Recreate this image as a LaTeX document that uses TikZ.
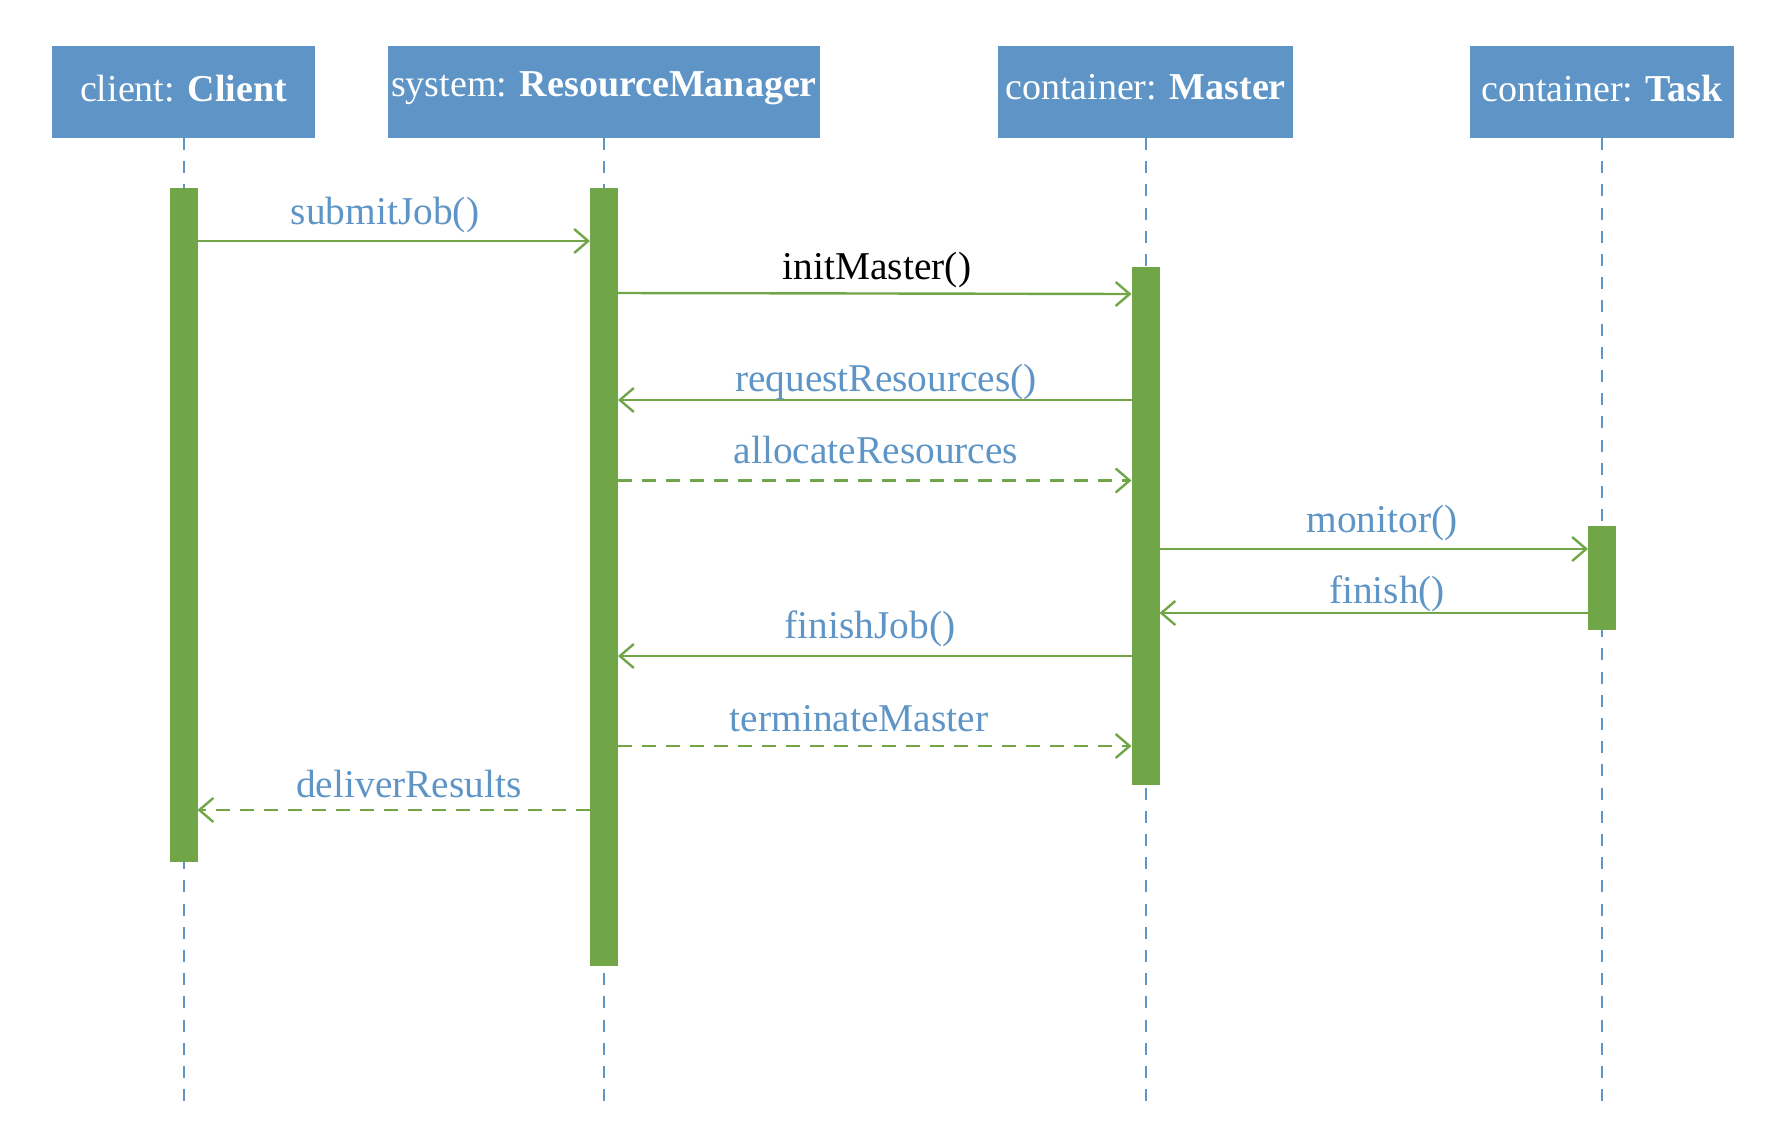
\documentclass[tikz,border=0pt]{standalone}
\usepackage{fontspec}
\setmainfont{Liberation Serif}
\usetikzlibrary{arrows.meta}
\definecolor{boxblue}{RGB}{94,149,198}
\definecolor{bargreen}{RGB}{112,166,72}
\begin{document}
\begin{tikzpicture}[x=0.5pt,y=-0.5pt,
  objbox/.style={fill=boxblue,draw=none,inner sep=0pt,outer sep=0pt,minimum height=46pt,text=white,font=\fontsize{19}{22}\selectfont},
  boxtext/.style={text=white,font=\fontsize{19}{22}\selectfont,inner sep=0pt},
  lifeline/.style={draw=boxblue,line width=1pt,dash pattern=on 6pt off 5.6pt},
  actbar/.style={fill=bargreen,draw=none,inner sep=0pt,outer sep=0pt,minimum width=14pt},
  msg/.style={draw=bargreen,line width=1.2pt,-{Straight Barb[length=7pt,width=12pt,line width=1.2pt]}},
  ret/.style={msg,dash pattern=on 7pt off 5pt},
  lbl/.style={text=boxblue,font=\fontsize{19.7}{23}\selectfont,inner sep=0pt}]
\useasboundingbox (0,0) rectangle (1790,1146);
% object boxes
\node[objbox,minimum width=131.7pt] (client) at (183.5,92) {};
\node[objbox,minimum width=216.3pt] (rm) at (604,92) {};
\node[objbox,minimum width=147.2pt] (master) at (1145.5,92) {};
\node[objbox,minimum width=131.7pt] (task) at (1602,92) {};
\node[boxtext] (clientT) at ([yshift=1.5pt]client.center) {client: \textbf{Client}};
\node[boxtext] (rmT) at ([yshift=1.75pt]rm.center) {system: \textbf{ResourceManager}};
\node[boxtext] (masterT) at ([yshift=2.5pt]master.center) {container: \textbf{Master}};
\node[boxtext] (taskT) at ([yshift=1.75pt]task.center) {container: \textbf{Task}};
% lifelines
\coordinate (endC) at (183.5,1103);
\coordinate (endR) at (604,1103);
\coordinate (endM) at (1145.5,1103);
\coordinate (endT) at (1602,1103);
\draw[lifeline] (client.south) -- (endC);
\draw[lifeline] (rm.south) -- (endR);
\draw[lifeline] (master.south) -- (endM);
\draw[lifeline] (task.south) -- (endT);
% activation bars
\node[actbar,minimum height=337pt] (barC) at (183.5,525) {};
\node[actbar,minimum height=389pt] (barR) at (604,577) {};
\node[actbar,minimum height=259pt] (barM) at (1145.5,526) {};
\node[actbar,minimum height=52pt] (barT) at (1602,578) {};
% messages
\draw[msg] (barC.east |- 0,241) -- (barR.west |- 0,241);
\node[lbl] (l1) at (385,215.3) {submitJob()};
\draw[msg] (barR.east |- 0,293) -- (barM.west |- 0,294);
\node[lbl,text=black] (l2) at (877,270.3) {initMaster()};
\draw[msg] (barM.west |- 0,400) -- (barR.east |- 0,400);
\node[lbl] (l3) at (886,382) {requestResources()};
\draw[ret] (barR.east |- 0,480.5) -- (barM.west |- 0,480.5);
\node[lbl] (l4) at (876,450.5) {allocateResources};
\draw[msg] (barM.east |- 0,549) -- (barT.west |- 0,549);
\node[lbl] (l5) at (1382,523) {monitor()};
\draw[msg] (barT.west |- 0,613) -- (barM.east |- 0,613);
\node[lbl] (l6) at (1387,594) {finish()};
\draw[msg] (barM.west |- 0,656) -- (barR.east |- 0,656);
\node[lbl] (l7) at (870,629) {finishJob()};
\draw[ret] (barR.east |- 0,746) -- (barM.west |- 0,746);
\node[lbl] (l8) at (859,718.5) {terminateMaster};
\draw[ret] (barR.west |- 0,810) -- (barC.east |- 0,810);
\node[lbl] (l9) at (409,784.5) {deliverResults};
\end{tikzpicture}
\end{document}
